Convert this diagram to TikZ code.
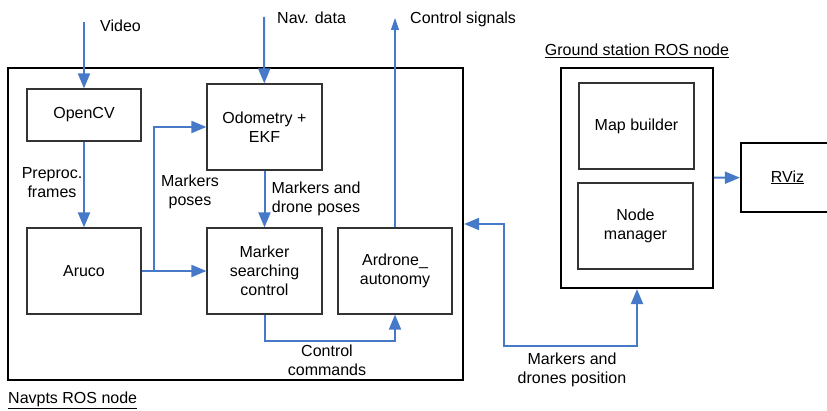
\documentclass[tikz,border=0pt]{standalone}
\usepackage{fontspec}
\setmainfont{Liberation Sans}
\usetikzlibrary{arrows.meta}
\definecolor{flowblue}{HTML}{4679C8}
\definecolor{boxgray}{HTML}{333333}

\begin{document}
\begin{tikzpicture}[x=1pt,y=-1pt,font=\fontsize{16}{19}\selectfont,
    blk/.style={draw=boxgray,line width=1.2pt,minimum width=115pt,minimum height=86pt,align=center,inner sep=0pt},
    frame/.style={draw=black,line width=2.2pt,inner sep=0pt},
    flow/.style={draw=flowblue,line width=2pt,-{Triangle[length=15pt,width=12pt]}},
    flowboth/.style={flow,{Triangle[length=15pt,width=12pt]}-{Triangle[length=15pt,width=12pt]}},
    signal/.style={draw=flowblue,line width=1.1pt,-{Triangle[length=12pt,width=8pt]}},
    lbl/.style={align=center,inner sep=0pt}]
      \useasboundingbox (0,0) rectangle (827,411);

      % outer ROS nodes
      \node[frame,minimum width=455pt,minimum height=312pt] (navpts) at (235.5,224) {};
      \node[frame,minimum width=152pt,minimum height=220pt] (ground) at (637,178) {};
      \node[frame,minimum width=93pt,minimum height=69pt] (rviz) at (787.5,177.5) {\underline{RViz}};

      \node[anchor=base west,inner sep=0pt] (navptslbl) at (8,403) {\underline{Navpts ROS node}};
      \node[anchor=base,inner sep=0pt] (groundlbl) at (637,56) {\underline{Ground station ROS node}};

      % blocks
      \node[blk,minimum width=114pt,minimum height=52pt] (opencv) at (84,115) {OpenCV};
      \node[blk] (odom) at (264.5,127) {Odometry +\\EKF};
      \node[blk,minimum width=114pt] (aruco) at (84,271) {Aruco};
      \node[blk] (msc) at (264.5,271) {Marker\\searching\\control};
      \node[blk,minimum width=114pt] (ardrone) at (395,271) {Ardrone\_\\autonomy};
      \node[blk] (mapb) at (636.5,126) {Map builder};
      \node[blk] (nodem) at (635.5,226) {Node\\manager};

      % free ends
      \coordinate (video) at (84,22);
      \coordinate (nav) at (264,17);
      \coordinate (ctrl) at (395,18);
      \coordinate (split) at (154,271);
      \coordinate (jog) at (504,346);

      \foreach \from/\to in {video/opencv,nav/odom,opencv/aruco,odom/msc,aruco/msc,ground/rviz}
        \draw[flow] (\from) -- (\to);
      \draw[signal] (ardrone) -- (ctrl);
      \draw[flow] (split) |- (odom.west);
      \draw[flow] (msc.south) -- ++(0,26) -| (ardrone.south);
      \draw[flowboth] (ground.south) |- (jog) |- (navpts.east);

      % labels
      \node[anchor=base west,inner sep=0pt] (videolbl) at (100,32) {Video};
      \node[anchor=base west,inner sep=0pt] (navlbl) at (277,24) {Nav. data};
      \node[anchor=base west,inner sep=0pt] (ctrllbl) at (410,24) {Control signals};
      \node[lbl] (prelbl) at (52,183) {Preproc.\\frames};
      \node[lbl] (poselbl) at (190,192) {Markers\\poses};
      \node[lbl] (mdplbl) at (316,199) {Markers and\\drone poses};
      \node[lbl] (cmdlbl) at (327,360) {Control\\commands};
      \node[lbl] (poslbl) at (572,370) {Markers and\\drones position};
    \end{tikzpicture}
\end{document}
